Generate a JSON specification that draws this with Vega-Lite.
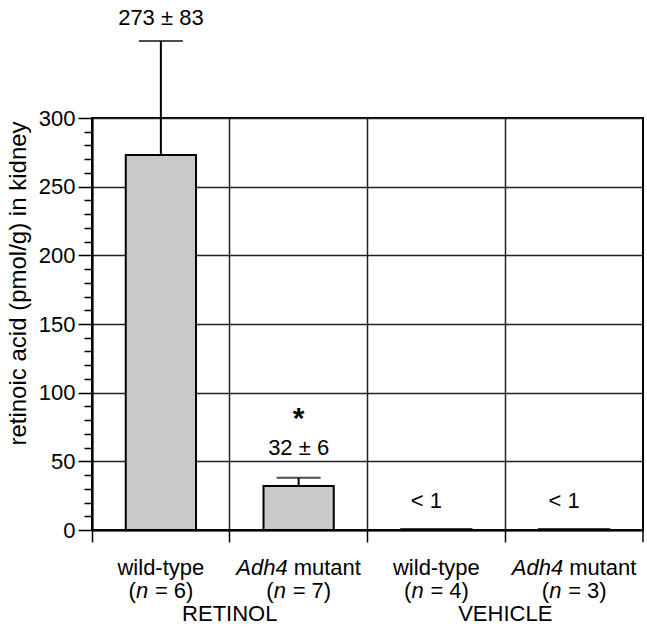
{
  "$schema": "https://vega.github.io/schema/vega-lite/v6.json",
  "autosize": "none",
  "width": 551,
  "height": 412,
  "padding": {"left": 92, "top": 118, "right": 4, "bottom": 111},
  "background": "white",
  "config": {
    "view": {"stroke": "black", "strokeWidth": 2},
    "font": "Liberation Sans",
    "text": {"font": "Liberation Sans", "fontSize": 22, "color": "black"}
  },
  "data": {
    "values": [
      {"cat": "wild-type (n = 6)", "group": "RETINOL", "genotype": "wild-type", "n": 6, "value": 273, "upper": 356, "note": "273 ± 83", "star": ""},
      {"cat": "Adh4 mutant (n = 7)", "group": "RETINOL", "genotype": "Adh4 mutant", "n": 7, "value": 32, "upper": 38, "note": "32 ± 6", "star": "*"},
      {"cat": "wild-type (n = 4)", "group": "VEHICLE", "genotype": "wild-type", "n": 4, "value": 0.5, "upper": 0.5, "note": "< 1", "star": ""},
      {"cat": "Adh4 mutant (n = 3)", "group": "VEHICLE", "genotype": "Adh4 mutant", "n": 3, "value": 0.5, "upper": 0.5, "note": "< 1", "star": ""}
    ]
  },
  "encoding": {
    "x": {
      "field": "cat", "type": "nominal", "sort": null,
      "scale": {"paddingInner": 0, "paddingOuter": 0},
      "axis": {
        "title": null, "bandPosition": 0, "grid": true, "gridColor": "#222", "gridWidth": 1.5,
        "domainColor": "black", "domainWidth": 2, "tickColor": "black", "tickWidth": 1.5, "tickSize": 12,
        "labels": false
      }
    }
  },
  "layer": [
    {
      "mark": {"type": "bar", "fill": "#c9c9c9", "stroke": "black", "strokeWidth": 2, "width": {"band": 0.51}},
      "encoding": {
        "y": {
          "field": "value", "type": "quantitative",
          "scale": {"domain": [0, 300], "nice": false, "zero": true},
          "axis": {
            "title": "retinoic acid (pmol/g) in kidney", "titleFont": "Liberation Sans", "titleFontSize": 24,
            "titleFontWeight": "normal", "titleColor": "black", "titleX": -62, "titleY": 165,
            "tickCount": 30,
            "labelExpr": "datum.value % 50 === 0 ? datum.label : ''",
            "labelOverlap": false,
            "labelFont": "Liberation Sans", "labelFontSize": 22, "labelColor": "black", "labelPadding": 3,
            "tickSize": {"condition": {"test": "datum.value % 50 === 0", "value": 14}, "value": 8},
            "tickColor": "black", "tickWidth": 1.5,
            "domainColor": "black", "domainWidth": 2,
            "grid": true, "gridColor": "#222", "gridWidth": 1.5,
            "gridOpacity": {"condition": {"test": "datum.value % 50 === 0", "value": 1}, "value": 0}
          }
        }
      }
    },
    {
      "mark": {"type": "rule", "color": "black", "strokeWidth": 1.5},
      "transform": [{"filter": "datum.n === 3"}],
      "encoding": {
        "x": {"field": "cat", "type": "nominal", "sort": null, "bandPosition": 1},
        "y": {"datum": 0, "type": "quantitative"},
        "y2": {"datum": -9}
      }
    },
    {
      "mark": {"type": "rule", "color": "black", "strokeWidth": 2},
      "transform": [{"filter": "datum.group === 'RETINOL'"}],
      "encoding": {
        "y": {"field": "value", "type": "quantitative"},
        "y2": {"field": "upper"}
      }
    },
    {
      "mark": {"type": "tick", "color": "black", "thickness": 2, "size": 44},
      "transform": [{"filter": "datum.group === 'RETINOL'"}],
      "encoding": {
        "y": {"field": "upper", "type": "quantitative"}
      }
    },
    {
      "mark": {"type": "text", "baseline": "alphabetic", "dy": -16},
      "transform": [{"filter": "datum.value > 100"}],
      "encoding": {
        "y": {"field": "upper", "type": "quantitative"},
        "text": {"field": "note"}
      }
    },
    {
      "mark": {"type": "text", "baseline": "alphabetic", "dy": -23},
      "transform": [{"filter": "datum.value > 10 && datum.value < 100"}],
      "encoding": {
        "y": {"field": "upper", "type": "quantitative"},
        "text": {"field": "note"}
      }
    },
    {
      "mark": {"type": "text", "baseline": "alphabetic", "dy": -50, "fontSize": 30, "fontWeight": "bold"},
      "transform": [{"filter": "datum.star !== ''"}],
      "encoding": {
        "y": {"field": "upper", "type": "quantitative"},
        "text": {"field": "star"}
      }
    },
    {
      "mark": {"type": "text", "baseline": "alphabetic", "dy": -21, "dx": -10},
      "transform": [{"filter": "datum.value < 1"}],
      "encoding": {
        "y": {"field": "value", "type": "quantitative"},
        "text": {"field": "note"}
      }
    },
    {
      "mark": {"type": "text", "baseline": "middle", "dy": 38},
      "transform": [{"filter": "datum.genotype === 'wild-type'"}],
      "encoding": {
        "y": {"datum": 0, "type": "quantitative"},
        "text": {"field": "genotype"}
      }
    },
    {
      "mark": {"type": "text", "baseline": "middle", "dy": 38, "align": "right", "dx": -11, "fontStyle": "italic"},
      "transform": [{"filter": "datum.genotype === 'Adh4 mutant'"}, {"calculate": "split(datum.genotype, ' ')[0]", "as": "gene"}],
      "encoding": {
        "y": {"datum": 0, "type": "quantitative"},
        "text": {"field": "gene"}
      }
    },
    {
      "mark": {"type": "text", "baseline": "middle", "dy": 38, "align": "left", "dx": -5},
      "transform": [{"filter": "datum.genotype === 'Adh4 mutant'"}, {"calculate": "split(datum.genotype, ' ')[1]", "as": "word"}],
      "encoding": {
        "y": {"datum": 0, "type": "quantitative"},
        "text": {"field": "word"}
      }
    },
    {
      "mark": {"type": "text", "baseline": "middle", "dy": 61, "align": "right", "dx": -25, "text": "("},
      "encoding": {
        "y": {"datum": 0, "type": "quantitative"}
      }
    },
    {
      "mark": {"type": "text", "baseline": "middle", "dy": 61, "align": "left", "dx": -25, "fontStyle": "italic", "text": "n"},
      "encoding": {
        "y": {"datum": 0, "type": "quantitative"}
      }
    },
    {
      "mark": {"type": "text", "baseline": "middle", "dy": 61, "align": "left", "dx": -6},
      "transform": [{"calculate": "'= ' + datum.n + ')'", "as": "nrest"}],
      "encoding": {
        "y": {"datum": 0, "type": "quantitative"},
        "text": {"field": "nrest"}
      }
    },
    {
      "mark": {"type": "text", "baseline": "middle", "dy": 84},
      "transform": [{"filter": "datum.genotype === 'Adh4 mutant'"}],
      "encoding": {
        "x": {"field": "cat", "type": "nominal", "sort": null, "bandPosition": 0},
        "y": {"datum": 0, "type": "quantitative"},
        "text": {"field": "group"}
      }
    }
  ]
}
